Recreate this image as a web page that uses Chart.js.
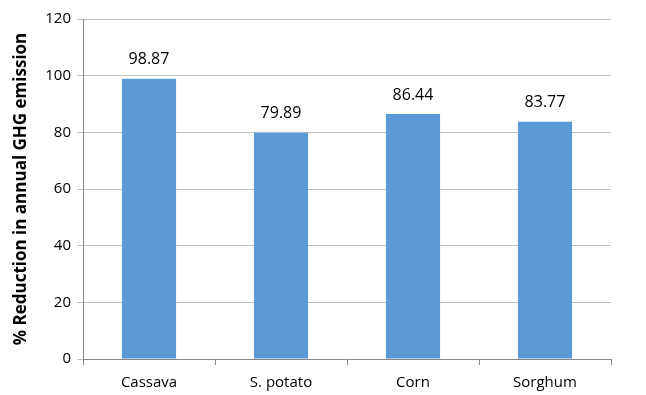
<!DOCTYPE html>
<html>
<head>
<meta charset="utf-8">
<script src="https://cdn.jsdelivr.net/npm/chart.js@4/dist/chart.umd.min.js"></script>
<style>
  html, body { margin: 0; padding: 0; background: #fff; }
  #wrap { width: 646px; height: 395px; }
</style>
</head>
<body>
<div id="wrap"><canvas id="c" width="646" height="395"></canvas></div>
<script>
// Crop categories and their % reduction in annual GHG emission
const crops = ['Cassava', 'S. potato', 'Corn', 'Sorghum'];
const reduction = [98.87, 79.89, 86.44, 83.77];
const yTicks = [0, 20, 40, 60, 80, 100, 120];

const FONT = "'Open Sans', 'Noto Sans', sans-serif";

// Writes each bar's value just above it
const valueLabels = {
  id: 'valueLabels',
  afterDatasetsDraw(chart) {
    const ctx = chart.ctx;
    const meta = chart.getDatasetMeta(0);
    ctx.save();
    ctx.font = '16px ' + FONT;
    ctx.fillStyle = '#000';
    ctx.textAlign = 'center';
    ctx.textBaseline = 'middle';
    meta.data.forEach((bar, i) => {
      ctx.fillText(reduction[i].toFixed(2), bar.x, bar.y - 19);
    });
    ctx.restore();
  }
};

new Chart(document.getElementById('c'), {
  type: 'bar',
  data: {
    labels: crops,
    datasets: [{
      data: reduction,
      backgroundColor: '#5B9BD5',
      barPercentage: 0.41,
      categoryPercentage: 1
    }]
  },
  options: {
    responsive: false,
    animation: false,
    events: [],
    layout: { padding: { top: 19, right: 35, left: 11, bottom: 0 } },
    plugins: { legend: { display: false }, tooltip: { enabled: false } },
    scales: {
      x: {
        offset: true,
        grid: {
          offset: true,
          drawOnChartArea: false,
          color: '#888',
          tickLength: 6
        },
        border: { color: '#888' },
        ticks: { color: '#000', font: { family: FONT, size: 15 }, padding: 9 },
        afterFit(s) { s.height = 36; }
      },
      y: {
        min: 0,
        max: 120,
        afterBuildTicks(s) { s.ticks = yTicks.map(v => ({ value: v })); },
        grid: { color: '#C0C0C0', tickLength: 6 },
        border: { color: '#888' },
        ticks: { color: '#000', font: { family: FONT, size: 15 }, padding: 6 },
        title: {
          display: true,
          text: '% Reduction in annual GHG emission',
          color: '#000',
          font: { family: FONT, size: 17, weight: 'bold' },
          padding: 0
        },
        afterFit(s) { s.width = 72; }
      }
    }
  },
  plugins: [valueLabels]
});
</script>
</body>
</html>
